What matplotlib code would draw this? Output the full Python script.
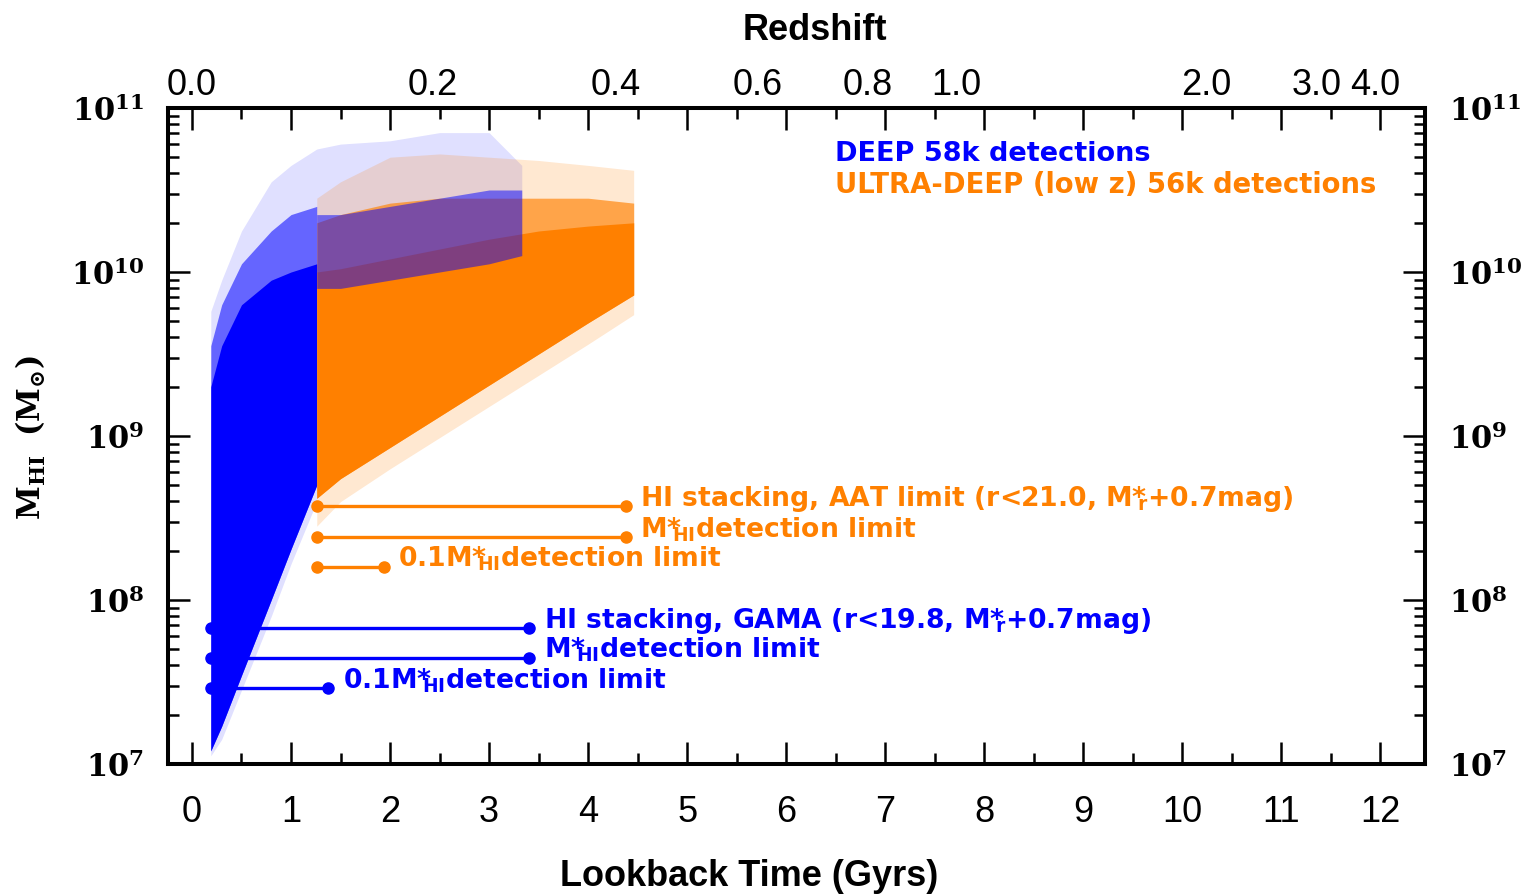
import numpy as np
import matplotlib.pyplot as plt
from matplotlib.transforms import blended_transform_factory

plt.rcParams['mathtext.fontset'] = 'dejavuserif'

BLUE = '#0000ff'
ORANGE = '#ff8000'

# ---- data (log10 M_HI vs lookback time in Gyr) ----
# DEEP cloud, part left of the ULTRA-DEEP edge
deep_t = [0.19, 0.3, 0.5, 0.8, 1.0, 1.26]
deep_lo_fringe = [7.05, 7.15, 7.45, 7.90, 8.22, 8.60]
deep_lo = [7.08, 7.23, 7.54, 8.00, 8.31, 8.70]
deep_core_hi = [9.30, 9.55, 9.80, 9.95, 10.00, 10.05]
deep_mid_hi = [9.55, 9.80, 10.05, 10.25, 10.35, 10.40]
deep_top = [9.76, 9.95, 10.25, 10.55, 10.65, 10.75]

# DEEP cloud, part visible above the ULTRA-DEEP points
deep_far_t = [1.26, 1.5, 2.0, 2.5, 3.0, 3.33]
deep_far_lo = [9.90, 9.90, 9.95, 10.00, 10.05, 10.10]
deep_far_mid = [10.35, 10.35, 10.40, 10.45, 10.50, 10.50]
deep_far_top = [10.75, 10.78, 10.80, 10.85, 10.85, 10.65]

# ULTRA-DEEP (low z) cloud
ud_t = [1.26, 1.5, 2.0, 2.5, 3.0, 3.5, 4.0, 4.46]
ud_lo = [8.45, 8.60, 8.80, 8.99, 9.18, 9.37, 9.56, 9.74]
ud_core_lo = [8.62, 8.74, 8.93, 9.12, 9.31, 9.50, 9.69, 9.86]
ud_core_hi = [10.00, 10.02, 10.08, 10.14, 10.20, 10.25, 10.28, 10.30]
ud_mid_hi = [10.30, 10.35, 10.42, 10.45, 10.45, 10.45, 10.45, 10.42]
ud_top = [10.45, 10.55, 10.70, 10.72, 10.70, 10.68, 10.65, 10.62]

# detection / stacking limits: (start, end) lookback, mass, label
ud_limits_t0 = [1.26, 1.26, 1.26]
ud_limits_t1 = [4.38, 4.38, 1.94]
ud_limits_m = [3.74e8, 2.42e8, 1.59e8]
ud_limits_lbl = [r'HI stacking, AAT limit (r<21.0, M*$\!\!_{\mathbf{r}}$+0.7mag)',
                 r'M*$\!\!_{\mathbf{HI}}$detection limit',
                 r'0.1M*$\!\!_{\mathbf{HI}}$detection limit']
deep_limits_t0 = [0.19, 0.19, 0.19]
deep_limits_t1 = [3.40, 3.40, 1.37]
deep_limits_m = [6.75e7, 4.43e7, 2.90e7]
deep_limits_lbl = [r'HI stacking, GAMA (r<19.8, M*$\!\!_{\mathbf{r}}$+0.7mag)',
                   r'M*$\!\!_{\mathbf{HI}}$detection limit',
                   r'0.1M*$\!\!_{\mathbf{HI}}$detection limit']

z_ticks = [0.0, 0.2, 0.4, 0.6, 0.8, 1.0, 2.0, 3.0, 4.0]


def lookback(z, h0=70.0, om=0.3):
    """flat LCDM lookback time in Gyr"""
    zz = np.linspace(0, z, 2001)
    f = 1.0 / ((1 + zz) * np.sqrt(om * (1 + zz) ** 3 + 1 - om))
    return 977.8 / h0 * np.trapezoid(f, zz)


def band(ax, t, lo, hi, color, alpha, z):
    ax.fill_between(t, 10 ** np.array(lo), 10 ** np.array(hi),
                    color=color, alpha=alpha, lw=0, zorder=z)


fig = plt.figure(figsize=(15.24, 8.94), dpi=100)
ax = fig.add_axes([168 / 1524, 1 - 764 / 894, (1425 - 168) / 1524, (764 - 108) / 894])
ax.set_yscale('log')

# DEEP cloud
band(ax, deep_t, deep_lo_fringe, deep_top, BLUE, 0.12, 1)
band(ax, deep_t, deep_lo, deep_mid_hi, BLUE, 0.55, 1.1)
band(ax, deep_t, deep_lo, deep_core_hi, BLUE, 1.0, 1.2)
band(ax, deep_far_t, deep_far_lo, deep_far_top, BLUE, 0.12, 1.3)

# ULTRA-DEEP cloud
band(ax, ud_t, ud_lo, ud_top, ORANGE, 0.18, 2)
band(ax, ud_t, ud_core_lo, ud_mid_hi, ORANGE, 0.65, 2.1)
band(ax, ud_t, ud_core_lo, ud_core_hi, ORANGE, 1.0, 2.2)

# blue points seen on top of the orange ones
band(ax, deep_far_t, deep_far_lo, deep_far_mid, BLUE, 0.5, 2.5)

# limit lines
FS = 19.2
for t0, t1, m, lbl in zip(ud_limits_t0, ud_limits_t1, ud_limits_m, ud_limits_lbl):
    ax.plot([t0, t1], [m, m], '-o', color=ORANGE, lw=2.4, ms=8, zorder=4)
    ax.annotate(lbl, (t1, m), xytext=(10, 0), textcoords='offset points',
                ha='left', va='baseline', color=ORANGE, fontsize=FS,
                fontweight='bold', family='DejaVu Sans', math_fontfamily='dejavusans')
for t0, t1, m, lbl in zip(deep_limits_t0, deep_limits_t1, deep_limits_m, deep_limits_lbl):
    ax.plot([t0, t1], [m, m], '-o', color=BLUE, lw=2.4, ms=8, zorder=4)
    ax.annotate(lbl, (t1, m), xytext=(11, 0), textcoords='offset points',
                ha='left', va='baseline', color=BLUE, fontsize=FS,
                fontweight='bold', family='DejaVu Sans', math_fontfamily='dejavusans')

# legend text
ax.text(0.5306, 0.9192, 'DEEP 58k detections', transform=ax.transAxes, color=BLUE,
        fontsize=19.5, fontweight='bold', ha='left', va='baseline')
ax.text(0.5306, 0.8704, 'ULTRA-DEEP (low z) 56k detections', transform=ax.transAxes,
        color=ORANGE, fontsize=19.8, fontweight='bold', ha='left', va='baseline')

# axes
ax.set_xlim(-0.242, 12.45)
ax.set_ylim(1e7, 1e11)
ax.set_xticks(range(13))
ax.set_xticks(np.arange(0.5, 12.5, 1), minor=True)
ax.set_yticks([1e7, 1e8, 1e9, 1e10, 1e11])
ax.set_yticklabels([r'$\mathbf{10^{%d}}$' % p for p in range(7, 12)])
ax.tick_params(which='both', direction='in', top=True, right=True, width=1.8)
ax.tick_params(which='major', length=16)
ax.tick_params(which='minor', length=8)
ax.tick_params(axis='x', labelsize=26, labelfontfamily='Liberation Sans', pad=22)
ax.tick_params(axis='y', labelsize=22, labelright=True, pad=17)
for sp in ax.spines.values():
    sp.set_linewidth(2.9)

# redshift labels on top
trans = blended_transform_factory(ax.transData, ax.transAxes)
for z in z_ticks:
    ax.text(lookback(z), 1.0198, f'{z:.1f}', transform=trans, ha='center',
            va='baseline', fontsize=26, family='Liberation Sans')

fig.text(815 / 1524, 1 - 40 / 894, 'Redshift', ha='center', va='baseline',
         fontsize=26, fontweight='bold', family='Liberation Sans')
fig.text(749 / 1524, 1 - 886 / 894, 'Lookback Time (Gyrs)', ha='center', va='baseline',
         fontsize=26, fontweight='bold', family='Liberation Sans')
fig.text(31 / 1524, 1 - 437 / 894, r'$\mathbf{M_{HI}\ \ (M_{\odot})}$', rotation=90,
         ha='center', va='center', fontsize=22)

fig.savefig('out.png', dpi=100)
